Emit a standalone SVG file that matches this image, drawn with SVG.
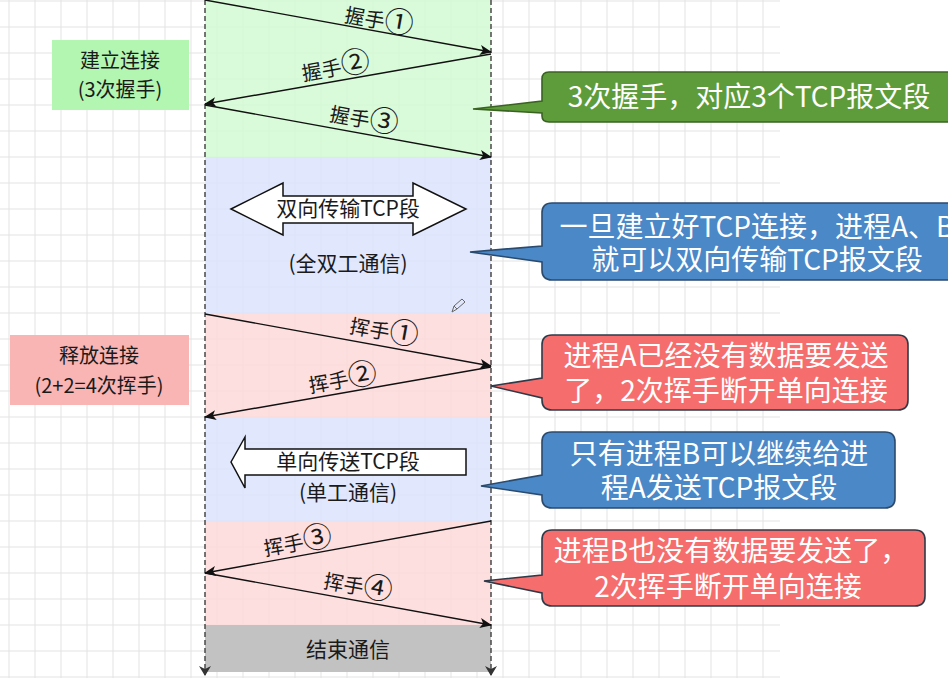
<svg xmlns="http://www.w3.org/2000/svg" width="948" height="678" viewBox="0 0 948 678">
<defs>
<style>
.grid line{stroke:#e3e3e3;stroke-width:1}
.band{fill-opacity:0.86}
.life{stroke:#4a4a4a;stroke-width:1.5;stroke-dasharray:5 3;fill:none}
.msg{stroke:#111;stroke-width:1.4;fill:none}
.lbl{font-family:"Noto Sans CJK SC","Noto Sans",sans-serif;font-size:20px;fill:#1a1a1a;text-anchor:middle}
.cd{font-family:"Noto Sans CJK SC",sans-serif;font-size:29px}
.call{font-family:"Noto Sans CJK SC","Noto Sans",sans-serif;font-size:28px;fill:#ffffff;text-anchor:middle}
.co{stroke-width:1.6}
</style>
<marker id="ah" viewBox="0 0 12 10" refX="11" refY="5" markerWidth="12" markerHeight="10" markerUnits="userSpaceOnUse" orient="auto">
<path d="M0,0 L12,5 L0,10 L3,5 Z" fill="#111"/>
</marker>
<marker id="lh" viewBox="0 0 10 12" refX="9" refY="6" markerWidth="10" markerHeight="12" markerUnits="userSpaceOnUse" orient="auto">
<path d="M0,0 L10,6 L0,12 L3,6 Z" fill="#333"/>
</marker>
</defs>
<rect width="948" height="678" fill="#ffffff"/>
<g class="grid">
<line x1="9" y1="0" x2="9" y2="678"/><line x1="35" y1="0" x2="35" y2="678"/><line x1="61" y1="0" x2="61" y2="678"/><line x1="87" y1="0" x2="87" y2="678"/><line x1="113" y1="0" x2="113" y2="678"/><line x1="139" y1="0" x2="139" y2="678"/><line x1="165" y1="0" x2="165" y2="678"/><line x1="191" y1="0" x2="191" y2="678"/><line x1="217" y1="0" x2="217" y2="678"/><line x1="243" y1="0" x2="243" y2="678"/><line x1="269" y1="0" x2="269" y2="678"/><line x1="295" y1="0" x2="295" y2="678"/><line x1="321" y1="0" x2="321" y2="678"/><line x1="347" y1="0" x2="347" y2="678"/><line x1="373" y1="0" x2="373" y2="678"/><line x1="399" y1="0" x2="399" y2="678"/><line x1="425" y1="0" x2="425" y2="678"/><line x1="451" y1="0" x2="451" y2="678"/><line x1="477" y1="0" x2="477" y2="678"/><line x1="503" y1="0" x2="503" y2="678"/><line x1="529" y1="0" x2="529" y2="678"/><line x1="555" y1="0" x2="555" y2="678"/><line x1="581" y1="0" x2="581" y2="678"/><line x1="607" y1="0" x2="607" y2="678"/><line x1="633" y1="0" x2="633" y2="678"/><line x1="659" y1="0" x2="659" y2="678"/><line x1="685" y1="0" x2="685" y2="678"/><line x1="711" y1="0" x2="711" y2="678"/><line x1="737" y1="0" x2="737" y2="678"/><line x1="763" y1="0" x2="763" y2="678"/>
<line x1="0" y1="1" x2="780" y2="1"/><line x1="0" y1="27" x2="780" y2="27"/><line x1="0" y1="53" x2="780" y2="53"/><line x1="0" y1="79" x2="780" y2="79"/><line x1="0" y1="105" x2="780" y2="105"/><line x1="0" y1="131" x2="780" y2="131"/><line x1="0" y1="157" x2="780" y2="157"/><line x1="0" y1="183" x2="780" y2="183"/><line x1="0" y1="209" x2="780" y2="209"/><line x1="0" y1="235" x2="780" y2="235"/><line x1="0" y1="261" x2="780" y2="261"/><line x1="0" y1="287" x2="780" y2="287"/><line x1="0" y1="313" x2="780" y2="313"/><line x1="0" y1="339" x2="780" y2="339"/><line x1="0" y1="365" x2="780" y2="365"/><line x1="0" y1="391" x2="780" y2="391"/><line x1="0" y1="417" x2="780" y2="417"/><line x1="0" y1="443" x2="780" y2="443"/><line x1="0" y1="469" x2="780" y2="469"/><line x1="0" y1="495" x2="780" y2="495"/><line x1="0" y1="521" x2="780" y2="521"/><line x1="0" y1="547" x2="780" y2="547"/><line x1="0" y1="573" x2="780" y2="573"/><line x1="0" y1="599" x2="780" y2="599"/><line x1="0" y1="625" x2="780" y2="625"/><line x1="0" y1="651" x2="780" y2="651"/><line x1="0" y1="677" x2="780" y2="677"/>
</g>
<g id="bands">
<rect class="band" x="205" y="0" width="286" height="157" fill="#d4fad4"/>
<rect class="band" x="205" y="157" width="286" height="156" fill="#dce3fb"/>
<rect class="band" x="205" y="313" width="286" height="104" fill="#fedada"/>
<rect class="band" x="205" y="417" width="286" height="104" fill="#dce3fb"/>
<rect class="band" x="205" y="521" width="286" height="104" fill="#fedada"/>
<rect x="205" y="625" width="286" height="47" fill="#c2c2c2"/>
</g>
<g id="lifelines">
<line class="life" x1="205" y1="0" x2="205" y2="675" marker-end="url(#lh)"/>
<line class="life" x1="491" y1="0" x2="491" y2="675" marker-end="url(#lh)"/>
</g>
<g id="connectors">
<line class="msg" x1="205" y1="0" x2="491" y2="52" marker-end="url(#ah)"/>
<line class="msg" x1="491" y1="54" x2="205" y2="104" marker-end="url(#ah)"/>
<line class="msg" x1="205" y1="105" x2="491" y2="157" marker-end="url(#ah)"/>
<line class="msg" x1="205" y1="314" x2="491" y2="366" marker-end="url(#ah)"/>
<line class="msg" x1="491" y1="367" x2="205" y2="417" marker-end="url(#ah)"/>
<line class="msg" x1="491" y1="521" x2="205" y2="573" marker-end="url(#ah)"/>
<line class="msg" x1="205" y1="573" x2="491" y2="625" marker-end="url(#ah)"/>
</g>
<g id="msg-labels">
<text class="lbl" transform="translate(379,21) rotate(10.3)" y="7">握手<tspan class="cd" dy="1">①</tspan></text>
<text class="lbl" transform="translate(336,68) rotate(-10)" y="7">握手<tspan class="cd" dy="1">②</tspan></text>
<text class="lbl" transform="translate(364,120) rotate(10.3)" y="7">握手<tspan class="cd" dy="1">③</tspan></text>
<text class="lbl" transform="translate(384,332) rotate(10.3)" y="7">挥手<tspan class="cd" dy="1">①</tspan></text>
<text class="lbl" transform="translate(343,380) rotate(-10)" y="7">挥手<tspan class="cd" dy="1">②</tspan></text>
<text class="lbl" transform="translate(298,543) rotate(-10)" y="7">挥手<tspan class="cd" dy="1">③</tspan></text>
<text class="lbl" transform="translate(358,587) rotate(10.3)" y="7">挥手<tspan class="cd" dy="1">④</tspan></text>
</g>
<g id="node-establish">
<rect x="52" y="40" width="137" height="70" fill="#b2f6b2"/>
<text class="lbl" x="120" y="68">建立连接</text>
<text class="lbl" x="120" y="97">(3次握手)</text>
</g>
<g id="node-release">
<rect x="10" y="335" width="179" height="70" fill="#f9b4b4"/>
<text class="lbl" x="99" y="363">释放连接</text>
<text class="lbl" x="99" y="393">(2+2=4次挥手)</text>
</g>
<g id="node-duplex">
<polygon points="231,209 283,183 283,196 413,196 413,183 466,209 413,235 413,223 283,223 283,235" fill="#ffffff" stroke="#111" stroke-width="1.5"/>
<text class="lbl" x="348" y="216" style="font-size:21px">双向传输TCP段</text>
<text class="lbl" x="348" y="271" style="font-size:21px">(全双工通信)</text>
</g>
<g id="node-simplex">
<polygon points="231,462 245,437 245,449 466,449 466,475 245,475 245,488" fill="#ffffff" stroke="#111" stroke-width="1.5"/>
<text class="lbl" x="348" y="469" style="font-size:21px">单向传送TCP段</text>
<text class="lbl" x="348" y="500" style="font-size:21px">(单工通信)</text>
</g>
<g id="node-end">
<text class="lbl" x="348" y="657" style="font-size:21px">结束通信</text>
</g>
<g id="pencil">
<path d="M452,312 L454,306 L462,299 L465,302 L457,309 Z M454,306 L457,309" fill="none" stroke="#666" stroke-width="1"/>
</g>
<g id="callout-green">
<path class="co" d="M549,72 H962 V122 H549 Q542,122 542,116 V113 L473,109 L542,101 V79 Q542,72 549,72 Z" fill="#5e9c3b" stroke="#3a6322"/>
<text class="call" x="749" y="107">3次握手，对应3个TCP报文段</text>
</g>
<g id="callout-blue1">
<path class="co" d="M552,203 H975 V280 H552 Q542,280 542,270 V262 L470,252 L542,246 V213 Q542,203 552,203 Z" fill="#4a88c8" stroke="#2a4a6e"/>
<text class="call" x="757" y="237">一旦建立好TCP连接，进程A、B</text>
<text class="call" x="757" y="270">就可以双向传输TCP报文段</text>
</g>
<g id="callout-red1">
<path class="co" d="M552,335 H898 Q908,335 908,345 V400 Q908,410 898,410 H552 Q542,410 542,400 V398 L491,386 L542,378 V345 Q542,335 552,335 Z" fill="#f56d6d" stroke="#2e3a48"/>
<text class="call" x="726" y="366">进程A已经没有数据要发送</text>
<text class="call" x="726" y="401">了，2次挥手断开单向连接</text>
</g>
<g id="callout-blue2">
<path class="co" d="M552,432 H885 Q895,432 895,442 V498 Q895,508 885,508 H552 Q542,508 542,498 V495 L481,486 L542,475 V442 Q542,432 552,432 Z" fill="#4a88c8" stroke="#2a4a6e"/>
<text class="call" x="719" y="464">只有进程B可以继续给进</text>
<text class="call" x="719" y="498">程A发送TCP报文段</text>
</g>
<g id="callout-red2">
<path class="co" d="M552,530 H915 Q925,530 925,540 V596 Q925,606 915,606 H552 Q542,606 542,596 V593 L484,581 L542,575 V540 Q542,530 552,530 Z" fill="#f56d6d" stroke="#2e3a48"/>
<text class="call" x="731" y="561">进程B也没有数据要发送了，</text>
<text class="call" x="728" y="597">2次挥手断开单向连接</text>
</g>
</svg>
